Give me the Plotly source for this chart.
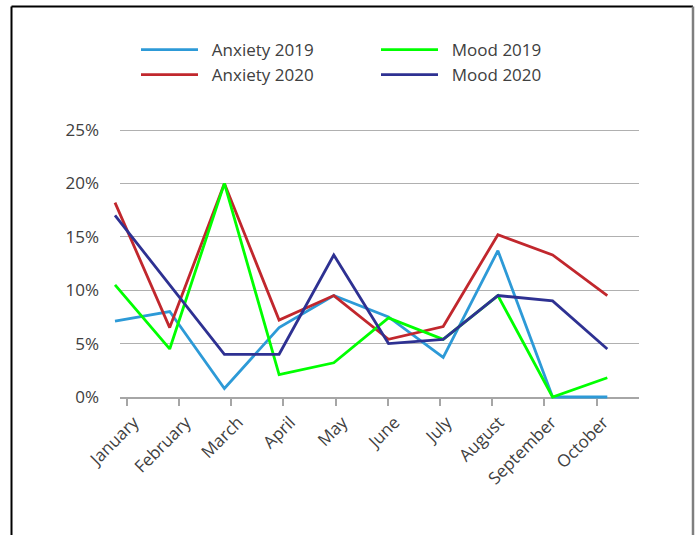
import plotly.graph_objects as go

# ---- data -------------------------------------------------------------
months = ["January", "February", "March", "April", "May",
          "June", "July", "August", "September", "October"]

anxiety_2019 = [0.071, 0.080, 0.008, 0.065, 0.095, 0.075, 0.037, 0.137, 0.000, 0.000]
anxiety_2020 = [0.182, 0.065, 0.200, 0.072, 0.095, 0.054, 0.066, 0.152, 0.133, 0.095]
mood_2019 = [0.105, 0.045, 0.200, 0.021, 0.032, 0.074, 0.054, 0.095, 0.000, 0.018]
mood_2020 = [0.170, 0.105, 0.040, 0.040, 0.133, 0.050, 0.054, 0.095, 0.090, 0.045]

y_ticks = [0.0, 0.05, 0.10, 0.15, 0.20, 0.25]

# ---- page geometry (pixels) ------------------------------------------
W, H = 699, 535
PAPER_L, PAPER_R, PAPER_T, PAPER_B = 105, 650, 126, 402   # outer drawing box
GRID_L, GRID_R, GRID_T, GRID_B = 120, 639, 130, 397       # 0%..25% plot box
Y_MAX = 0.25
PX_PER_UNIT = (GRID_B - GRID_T) / Y_MAX
TOP_PAD = 2  # keeps the 25% gridline inside the plot box

# category positions: tick/label axis and the line axis
TICK_X0, TICK_STEP = 126.7, 52.2
LINE_X0, LINE_STEP = 115.0, 54.7

pw = PAPER_R - PAPER_L
ph = PAPER_B - PAPER_T


def px_x(px):
    return (px - PAPER_L) / pw


def px_y(py):
    return (PAPER_B - py) / ph


FONT = "Open Sans"
TEXT = "#404040"
GRID = "#b0b0b0"
PAD = "\u00a0\u00a0"

series = [
    ("Anxiety 2019", anxiety_2019, "#2D9AD7", "legend"),
    ("Anxiety 2020", anxiety_2020, "#C1272D", "legend"),
    ("Mood 2019", mood_2019, "#00FF00", "legend2"),
    ("Mood 2020", mood_2020, "#2E3192", "legend2"),
]

fig = go.Figure()

# invisible trace so the labelled axis knows its categories
fig.add_trace(go.Scatter(x=months, y=[None] * len(months), xaxis="x", yaxis="y",
                         showlegend=False, hoverinfo="skip", mode="lines"))

for name, vals, color, leg in series:
    fig.add_trace(go.Scatter(
        x=months, y=vals, name=PAD + name, mode="lines",
        line=dict(color=color, width=2.8),
        xaxis="x2", yaxis="y2", legend=leg,
    ))

legend_common = dict(
    xanchor="left", yanchor="top", orientation="v",
    bgcolor="rgba(0,0,0,0)", tracegroupgap=0,
    font=dict(family=FONT, size=17, color=TEXT), itemwidth=57,
)

fig.update_layout(
    width=W, height=H,
    margin=dict(l=PAPER_L, r=W - PAPER_R, t=PAPER_T, b=H - PAPER_B, pad=0),
    paper_bgcolor="white", plot_bgcolor="rgba(0,0,0,0)",
    font=dict(family=FONT, color=TEXT, size=16),
    xaxis=dict(
        type="category", categoryorder="array", categoryarray=months,
        domain=[px_x(GRID_L), px_x(GRID_R)],
        range=[(GRID_L - TICK_X0) / TICK_STEP, (GRID_R - TICK_X0) / TICK_STEP],
        showgrid=False, zeroline=False,
        showline=True, linecolor="#a6a6a6", linewidth=1.5,
        ticks="outside", ticklen=7, tickcolor="#a6a6a6", tickwidth=1.5,
        tickangle=-45, ticklabelshift=7,
        tickfont=dict(size=17, color=TEXT, family=FONT),
        anchor="y", fixedrange=True,
    ),
    yaxis=dict(
        domain=[px_y(GRID_B), px_y(GRID_T - TOP_PAD)],
        range=[0, Y_MAX + TOP_PAD / PX_PER_UNIT],
        tickvals=y_ticks, tickformat=".0%",
        showgrid=True, gridcolor=GRID, gridwidth=1.4,
        zeroline=False, showline=False, ticks="",
        ticklabelstandoff=20,
        tickfont=dict(size=17, color=TEXT, family=FONT),
        anchor="x", fixedrange=True,
    ),
    xaxis2=dict(
        type="category", categoryorder="array", categoryarray=months,
        domain=[0, 1],
        range=[(PAPER_L - LINE_X0) / LINE_STEP, (PAPER_R - LINE_X0) / LINE_STEP],
        visible=False, anchor="y2", fixedrange=True,
    ),
    yaxis2=dict(
        domain=[0, 1],
        range=[-(PAPER_B - GRID_B) / PX_PER_UNIT, Y_MAX + (GRID_T - PAPER_T) / PX_PER_UNIT],
        visible=False, anchor="x2", fixedrange=True,
    ),
    legend=dict(x=px_x(136), y=px_y(32), **legend_common),
    legend2=dict(x=px_x(376), y=px_y(32), **legend_common),
    showlegend=True,
)

# frame around the chart
frame = [
    (11.5, 6.5, 693, 6.5, "#000000", 2),
    (11.5, 6.5, 11.5, 545, "#000000", 2),
    (693, 6.5, 693, 545, "#7f7f7f", 2.5),
]
for x0, y0, x1, y1, c, w in frame:
    fig.add_shape(type="line", xref="paper", yref="paper",
                  x0=px_x(x0), y0=px_y(y0), x1=px_x(x1), y1=px_y(y1),
                  line=dict(color=c, width=w), layer="above")

fig.write_html("out.html")
